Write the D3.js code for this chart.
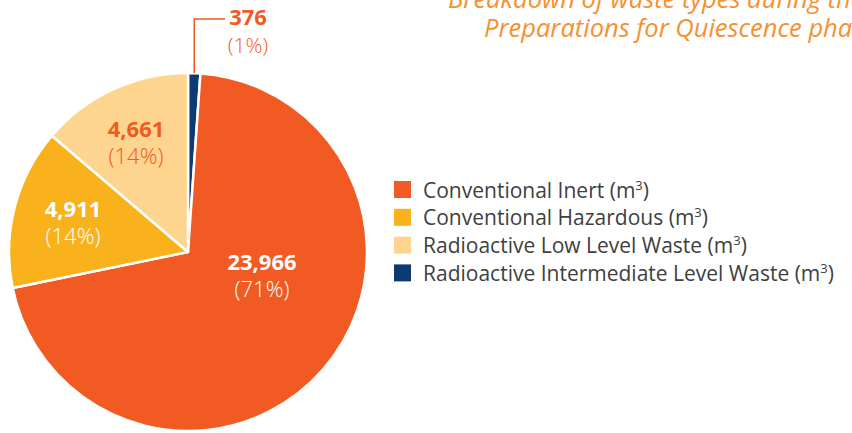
<!DOCTYPE html>
<html>
<head>
<meta charset="utf-8">
<script src="https://cdn.jsdelivr.net/npm/d3@7/dist/d3.min.js"></script>
<style>
  html, body { margin: 0; padding: 0; background: #fff; overflow: hidden; }
  svg { display: block; font-family: "Open Sans", sans-serif; }
</style>
</head>
<body>
<svg id="chart" width="852" height="433"></svg>
<script>
// Waste volumes by type (m³)
const categories = [
  "Radioactive Intermediate Level Waste",
  "Conventional Inert",
  "Conventional Hazardous",
  "Radioactive Low Level Waste"
];
const volumes = [376, 23966, 4911, 4661];
const percentLabels = ["1%", "71%", "14%", "14%"];
const colors = ["#0e3a72", "#f15a22", "#f9b21b", "#fed58f"];

// Legend order
const legendOrder = [
  "Conventional Inert",
  "Conventional Hazardous",
  "Radioactive Low Level Waste",
  "Radioactive Intermediate Level Waste"
];

const titleLines = [
  "Breakdown of waste types during the",
  "Preparations for Quiescence phase"
];

// Layout
const cx = 188, cy = 252, radius = 179;
// label centre offsets from the pie centre, plus text colours
const labelOffsets = {
  "Conventional Inert": [74, 0, "#ffffff"],
  "Conventional Hazardous": [-115, -53, "#ffffff"],
  "Radioactive Low Level Waste": [-52, -133, "#f15a22"]
};

const svg = d3.select("#chart");
const color = d3.scaleOrdinal().domain(categories).range(colors);

const data = categories.map((c, i) => ({ name: c, value: volumes[i], pct: percentLabels[i] }));

const pie = d3.pie().value(d => d.value).sort(null);
const arc = d3.arc().innerRadius(0).outerRadius(radius);
const arcs = pie(data);

const g = svg.append("g").attr("transform", `translate(${cx},${cy})`);

g.selectAll("path.slice")
  .data(arcs)
  .join("path")
  .attr("class", "slice")
  .attr("d", arc)
  .attr("fill", d => color(d.data.name))
  .attr("stroke", "#ffffff")
  .attr("stroke-width", 2.5)
  .attr("stroke-linejoin", "round");

const fmt = d3.format(",");

// In-slice labels
arcs.filter(d => labelOffsets[d.data.name]).forEach(d => {
  const [dx, dy, c] = labelOffsets[d.data.name];
  g.append("text")
    .attr("x", dx).attr("y", dy + 18)
    .attr("text-anchor", "middle")
    .attr("font-size", 22).attr("font-weight", 700)
    .attr("fill", c)
    .text(fmt(d.data.value));
  g.append("text")
    .attr("x", dx).attr("y", dy + 45)
    .attr("text-anchor", "middle")
    .attr("font-size", 22).attr("font-weight", 300)
    .attr("fill", c)
    .text(`(${d.data.pct})`);
});

// Leader line and label for the small slice
const small = arcs[0];
const midA = (small.startAngle + small.endAngle) / 2;
const px = Math.sin(midA) * radius, py = -Math.cos(midA) * radius;
const lineTopY = 19 - cy;
const lineEndX = 225 - cx;
g.append("path")
  .attr("d", `M${px},${py}V${lineTopY}H${lineEndX}`)
  .attr("fill", "none")
  .attr("stroke", "#f15a22")
  .attr("stroke-width", 1.5);
g.append("text")
  .attr("x", 248 - cx).attr("y", 25 - cy)
  .attr("text-anchor", "middle")
  .attr("font-size", 22).attr("font-weight", 700)
  .attr("fill", "#f15a22")
  .text(fmt(small.data.value));
g.append("text")
  .attr("x", 248 - cx).attr("y", 53 - cy)
  .attr("text-anchor", "middle")
  .attr("font-size", 21).attr("font-weight", 300)
  .attr("fill", "#f15a22")
  .text(`(${small.data.pct})`);

// Title
const title = svg.append("g");
title.selectAll("text")
  .data(titleLines)
  .join("text")
  .attr("x", (d, i) => i === 0 ? 448 : 484)
  .attr("y", (d, i) => 7.5 + i * 29.5)
  .attr("font-size", 25.5)
  .attr("font-style", "italic")
  .attr("fill", "#f7902f")
  .text(d => d);

// Legend
const legend = svg.append("g").attr("transform", "translate(394,181)");
const rows = legend.selectAll("g")
  .data(legendOrder)
  .join("g")
  .attr("transform", (d, i) => `translate(0,${i * 27.8})`);
rows.append("rect")
  .attr("width", 17).attr("height", 17)
  .attr("fill", d => color(d));
const lt = rows.append("text")
  .attr("x", 29).attr("y", 16.5)
  .attr("font-size", 21)
  .attr("fill", "#404040");
lt.append("tspan").text(d => d + " (m");
lt.append("tspan").attr("font-size", 13).attr("dy", -8).text("3");
lt.append("tspan").attr("dy", 8).text(")");
</script>
</body>
</html>
